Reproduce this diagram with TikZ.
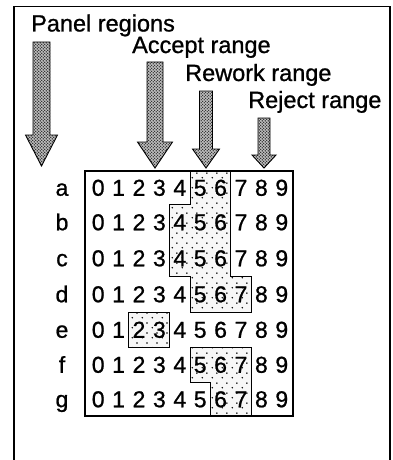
\documentclass[tikz,border=0pt]{standalone}
\usepackage{fontspec}
\setmainfont{Liberation Sans}[FakeBold=0.9]
\usetikzlibrary{patterns}
\pgfdeclarepatternformonly{sparsedots}{\pgfqpoint{0pt}{0pt}}{\pgfqpoint{10pt}{10pt}}{\pgfqpoint{10pt}{10pt}}{%
  \pgfpathcircle{\pgfqpoint{2.5pt}{2.5pt}}{0.9pt}%
  \pgfpathcircle{\pgfqpoint{7.5pt}{7.5pt}}{0.9pt}%
  \pgfusepath{fill}}
\pgfdeclarepatternformonly{arrowcheck}{\pgfqpoint{0pt}{0pt}}{\pgfqpoint{3.4pt}{3.4pt}}{\pgfqpoint{3.4pt}{3.4pt}}{%
  \pgfpathcircle{\pgfqpoint{0.85pt}{0.85pt}}{0.85pt}%
  \pgfpathcircle{\pgfqpoint{2.55pt}{2.55pt}}{0.85pt}%
  \pgfusepath{fill}}
\newcommand{\mkarrow}[6]{% cx, half shaft, half head, top, head base, tip
  \draw[bigarrow] ({#1-#2},#4) -- ({#1+#2},#4) -- ({#1+#2},#5) -- ({#1+#3},#5)
    -- (#1,#6) -- ({#1-#3},#5) -- ({#1-#2},#5) -- cycle;}
\begin{document}
\begin{tikzpicture}[x=1pt,y=-1pt,
  title/.style={anchor=base west, inner sep=0, font=\fontsize{23.5}{28}\selectfont},
  dig/.style={inner sep=0, text height=16.5pt, text depth=0pt, font=\fontsize{23}{26}\selectfont},
  bigarrow/.style={draw=black, line width=0.9pt, preaction={fill=gray!50}, pattern=arrowcheck, pattern color=black!85},
  region/.style={draw=black, line width=0.8pt, preaction={fill=gray!6}, pattern=sparsedots, pattern color=black},
  frame/.style={draw=black, line width=1.5pt}]
\useasboundingbox (0,0) rectangle (393,460);
\fill[white] (0,0) rectangle (393,460);
% outer frame (open at bottom)
\draw[frame] (14,462) -- (14,6.5) -- (390,6.5) -- (390,462);
% titles
\node[title] (panel)  at (31,31.5) {Panel regions};
\node[title] (accept) at (132,53)  {Accept range};
\node[title] (rework) at (185,81)  {Rework range};
\node[title] (reject) at (248,108) {Reject range};
% arrows
\mkarrow{41.5}{8.5}{16}{42}{135}{166}
\mkarrow{155}{8}{17.5}{62}{142}{168}
\mkarrow{206}{6.5}{13.5}{91}{149}{168}
\mkarrow{264}{6}{12}{118}{155}{168}
% shaded regions
\draw[region] (190,171) -- (230.8,171) -- (230.8,276) -- (251.2,276) -- (251.2,312)
  -- (190,312) -- (190,276) -- (169.6,276) -- (169.6,204) -- (190,204) -- cycle;
\draw[region] (128.8,312) -- (169.6,312) -- (169.6,347) -- (128.8,347) -- cycle;
\draw[region] (190,347) -- (251.2,347) -- (251.2,416) -- (210.4,416) -- (210.4,382)
  -- (190,382) -- cycle;
% grid border
\node[draw, line width=1.2pt, minimum width=208pt, minimum height=245pt, inner sep=0] (grid) at (189,293.5) {};
% rows
\foreach \r/\y in {a/187.5,b/222,c/258,d/294,e/329.5,f/364.5,g/399} {
  \node[dig] (lab-\r) at (62,\y) {\r};
  \foreach \k in {0,...,9}
    \node[dig] (d-\r-\k) at ({98.2+20.4*\k},\y) {\k};
}
\end{tikzpicture}
\end{document}
